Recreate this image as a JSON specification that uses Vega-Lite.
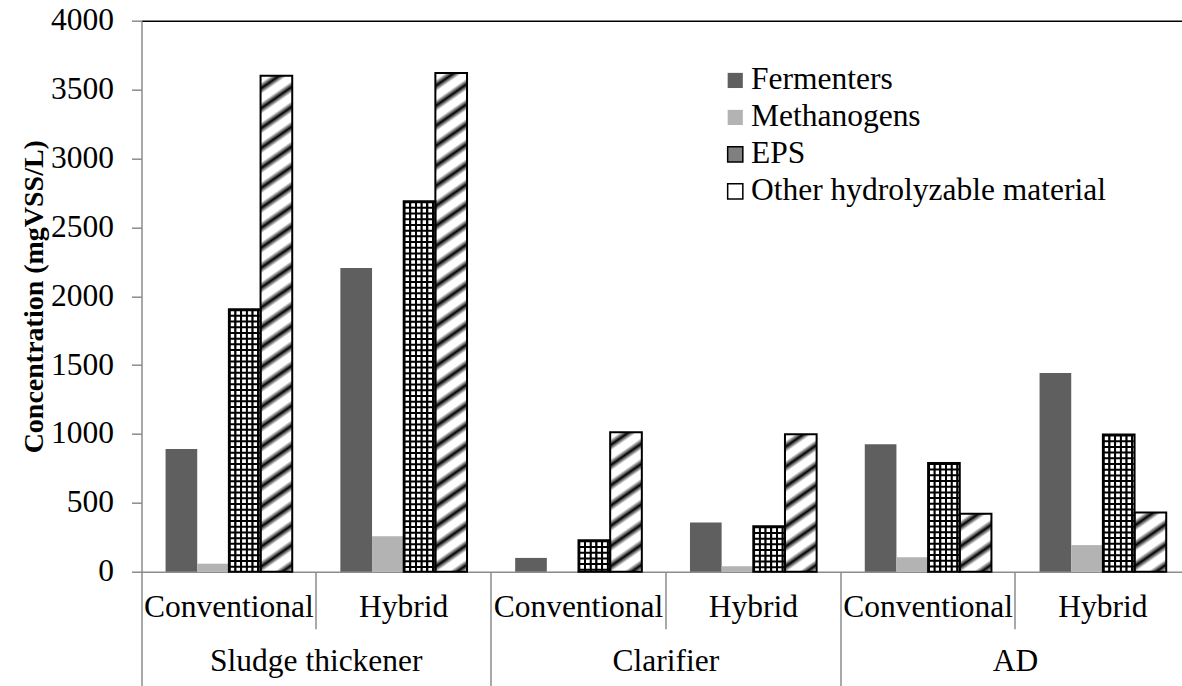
{
  "$schema": "https://vega.github.io/schema/vega-lite/v6.json",
  "width": 1048.8,
  "height": 551,
  "autosize": {"type": "none"},
  "padding": {"left": 141.5, "top": 20.7, "right": 0, "bottom": 114.3},
  "config": {"view": {"stroke": null}, "font": "Liberation Serif"},
  "data": {
    "values": [
      {"group": "Sludge thickener|Conventional", "series": "Fermenters", "value": 890},
      {"group": "Sludge thickener|Conventional", "series": "Methanogens", "value": 58},
      {"group": "Sludge thickener|Conventional", "series": "EPS", "value": 1906},
      {"group": "Sludge thickener|Conventional", "series": "Other hydrolyzable material", "value": 3600},
      {"group": "Sludge thickener|Hybrid", "series": "Fermenters", "value": 2205},
      {"group": "Sludge thickener|Hybrid", "series": "Methanogens", "value": 257},
      {"group": "Sludge thickener|Hybrid", "series": "EPS", "value": 2690},
      {"group": "Sludge thickener|Hybrid", "series": "Other hydrolyzable material", "value": 3620},
      {"group": "Clarifier|Conventional", "series": "Fermenters", "value": 100},
      {"group": "Clarifier|Conventional", "series": "Methanogens", "value": 3},
      {"group": "Clarifier|Conventional", "series": "EPS", "value": 228},
      {"group": "Clarifier|Conventional", "series": "Other hydrolyzable material", "value": 1013},
      {"group": "Clarifier|Hybrid", "series": "Fermenters", "value": 357},
      {"group": "Clarifier|Hybrid", "series": "Methanogens", "value": 40},
      {"group": "Clarifier|Hybrid", "series": "EPS", "value": 330},
      {"group": "Clarifier|Hybrid", "series": "Other hydrolyzable material", "value": 998},
      {"group": "AD|Conventional", "series": "Fermenters", "value": 925},
      {"group": "AD|Conventional", "series": "Methanogens", "value": 105},
      {"group": "AD|Conventional", "series": "EPS", "value": 790},
      {"group": "AD|Conventional", "series": "Other hydrolyzable material", "value": 420},
      {"group": "AD|Hybrid", "series": "Fermenters", "value": 1443},
      {"group": "AD|Hybrid", "series": "Methanogens", "value": 193},
      {"group": "AD|Hybrid", "series": "EPS", "value": 996},
      {"group": "AD|Hybrid", "series": "Other hydrolyzable material", "value": 430}
    ]
  },
  "layer": [
    {
      "mark": {"type": "bar"},
      "encoding": {
        "x": {
          "field": "group", "type": "nominal",
          "scale": {"domain": ["Sludge thickener|Conventional", "Sludge thickener|Hybrid", "Clarifier|Conventional", "Clarifier|Hybrid", "AD|Conventional", "AD|Hybrid"], "paddingInner": 0, "paddingOuter": 0},
          "axis": {
            "title": null,
            "labelExpr": "split(datum.label, '|')[1]",
            "labelFont": "Liberation Serif", "labelFontSize": 31.5, "labelColor": "black",
            "labelAngle": 0, "labelBaseline": "middle",
            "labelPadding": {"condition": {"test": "indexof(datum.value, 'Conventional') >= 0", "value": -78}, "value": -21},
            "bandPosition": 0,
            "tickSize": {"condition": {"test": "indexof(datum.value, 'Conventional') >= 0", "value": 114}, "value": 57},
            "tickColor": "#8c8c8c", "tickWidth": 1.5,
            "domainColor": "#8c8c8c", "domainWidth": 1.5,
            "grid": false
          }
        },
        "xOffset": {
          "field": "series", "type": "nominal",
          "scale": {"domain": ["Fermenters", "Methanogens", "EPS", "Other hydrolyzable material"], "paddingInner": 0, "paddingOuter": 0.76}
        },
        "y": {
          "field": "value", "type": "quantitative",
          "scale": {"domain": [0, 4000], "nice": false},
          "axis": {
            "title": "Concentration (mgVSS/L)",
            "titleFont": "Liberation Serif", "titleFontSize": 28, "titleFontWeight": "bold", "titleColor": "black", "titlePadding": 2,
            "values": [0, 500, 1000, 1500, 2000, 2500, 3000, 3500, 4000],
            "format": "d",
            "labelFont": "Liberation Serif", "labelFontSize": 31.5, "labelColor": "black", "labelPadding": 18,
            "tickSize": 10, "tickColor": "#8c8c8c", "tickWidth": 1.5,
            "domainColor": "#8c8c8c", "domainWidth": 1.5,
            "grid": true,
            "gridColor": {"condition": {"test": "datum.value === 4000", "value": "black"}, "value": "transparent"},
            "gridWidth": 1.5
          }
        },
        "color": {
          "field": "series", "type": "nominal",
          "scale": {"domain": ["Fermenters", "Methanogens", "EPS", "Other hydrolyzable material"], "range": ["#5f5f5f", "#b3b3b3", "#808080", "#ffffff"]},
          "legend": {
            "orient": "none", "legendX": 578, "legendY": 44,
            "title": null,
            "labelFont": "Liberation Serif", "labelFontSize": 31.5, "labelColor": "black", "labelLimit": 600,
            "symbolType": "square", "symbolSize": 230, "symbolStrokeWidth": 1.5,
            "symbolStrokeColor": {"expr": "datum.value === 'EPS' || datum.value === 'Other hydrolyzable material' ? 'black' : null"},
            "rowPadding": 4, "labelOffset": 0, "padding": 0
          }
        }
      }
    },
    {
      "transform": [{"filter": "datum.series === 'EPS'"}],
      "mark": {"type": "bar", "fill": {"gradient": "linear", "x1": 0, "y1": 0, "x2": 1, "y2": 0, "stops": [
        {"offset": 0, "color": "black"}, {"offset": 0.045, "color": "black"}, {"offset": 0.072, "color": "white"}, {"offset": 0.162, "color": "white"},
        {"offset": 0.18, "color": "black"}, {"offset": 0.225, "color": "black"}, {"offset": 0.252, "color": "white"}, {"offset": 0.342, "color": "white"},
        {"offset": 0.36, "color": "black"}, {"offset": 0.405, "color": "black"}, {"offset": 0.432, "color": "white"}, {"offset": 0.522, "color": "white"},
        {"offset": 0.54, "color": "black"}, {"offset": 0.585, "color": "black"}, {"offset": 0.612, "color": "white"}, {"offset": 0.702, "color": "white"},
        {"offset": 0.72, "color": "black"}, {"offset": 0.765, "color": "black"}, {"offset": 0.792, "color": "white"}, {"offset": 0.882, "color": "white"},
        {"offset": 0.9, "color": "black"}, {"offset": 0.945, "color": "black"}, {"offset": 0.972, "color": "white"}, {"offset": 1, "color": "white"}
      ]}},
      "encoding": {
        "x": {"field": "group", "type": "nominal"},
        "xOffset": {"field": "series", "type": "nominal"},
        "y": {"field": "value", "type": "quantitative"}
      }
    },
    {
      "transform": [{"filter": "datum.series === 'EPS'"}],
      "mark": {"type": "rule", "strokeWidth": 30, "strokeDash": [2, 3.7], "color": "black"},
      "encoding": {
        "x": {"field": "group", "type": "nominal"},
        "xOffset": {"field": "series", "type": "nominal"},
        "y": {"field": "value", "type": "quantitative"},
        "y2": {"datum": 0}
      }
    },
    {
      "transform": [{"filter": "datum.series === 'Other hydrolyzable material'"}],
      "mark": {"type": "bar"},
      "encoding": {
        "x": {"field": "group", "type": "nominal"},
        "xOffset": {"field": "series", "type": "nominal"},
        "y": {"field": "value", "type": "quantitative"},
        "fill": {
          "condition": [
            {"test": "datum.group === 'Sludge thickener|Conventional'", "value": {"gradient": "linear", "x1": 0, "y1": 0, "x2": 0.0466, "y2": 1.0426, "stops": [
              {"offset":0.01346,"color":"white"},{"offset":0.025,"color":"black"},{"offset":0.03654,"color":"white"},
              {"offset":0.05192,"color":"white"},{"offset":0.06346,"color":"black"},{"offset":0.075,"color":"white"},
              {"offset":0.09038,"color":"white"},{"offset":0.10192,"color":"black"},{"offset":0.11346,"color":"white"},
              {"offset":0.12885,"color":"white"},{"offset":0.14038,"color":"black"},{"offset":0.15192,"color":"white"},
              {"offset":0.16731,"color":"white"},{"offset":0.17885,"color":"black"},{"offset":0.19038,"color":"white"},
              {"offset":0.20577,"color":"white"},{"offset":0.21731,"color":"black"},{"offset":0.22885,"color":"white"},
              {"offset":0.24423,"color":"white"},{"offset":0.25577,"color":"black"},{"offset":0.26731,"color":"white"},
              {"offset":0.28269,"color":"white"},{"offset":0.29423,"color":"black"},{"offset":0.30577,"color":"white"},
              {"offset":0.32115,"color":"white"},{"offset":0.33269,"color":"black"},{"offset":0.34423,"color":"white"},
              {"offset":0.35962,"color":"white"},{"offset":0.37115,"color":"black"},{"offset":0.38269,"color":"white"},
              {"offset":0.39808,"color":"white"},{"offset":0.40962,"color":"black"},{"offset":0.42115,"color":"white"},
              {"offset":0.43654,"color":"white"},{"offset":0.44808,"color":"black"},{"offset":0.45962,"color":"white"},
              {"offset":0.475,"color":"white"},{"offset":0.48654,"color":"black"},{"offset":0.49808,"color":"white"},
              {"offset":0.51346,"color":"white"},{"offset":0.525,"color":"black"},{"offset":0.53654,"color":"white"},
              {"offset":0.55192,"color":"white"},{"offset":0.56346,"color":"black"},{"offset":0.575,"color":"white"},
              {"offset":0.59038,"color":"white"},{"offset":0.60192,"color":"black"},{"offset":0.61346,"color":"white"},
              {"offset":0.62885,"color":"white"},{"offset":0.64038,"color":"black"},{"offset":0.65192,"color":"white"},
              {"offset":0.66731,"color":"white"},{"offset":0.67885,"color":"black"},{"offset":0.69038,"color":"white"},
              {"offset":0.70577,"color":"white"},{"offset":0.71731,"color":"black"},{"offset":0.72885,"color":"white"},
              {"offset":0.74423,"color":"white"},{"offset":0.75577,"color":"black"},{"offset":0.76731,"color":"white"},
              {"offset":0.78269,"color":"white"},{"offset":0.79423,"color":"black"},{"offset":0.80577,"color":"white"},
              {"offset":0.82115,"color":"white"},{"offset":0.83269,"color":"black"},{"offset":0.84423,"color":"white"},
              {"offset":0.85962,"color":"white"},{"offset":0.87115,"color":"black"},{"offset":0.88269,"color":"white"},
              {"offset":0.89808,"color":"white"},{"offset":0.90962,"color":"black"},{"offset":0.92115,"color":"white"},
              {"offset":0.93654,"color":"white"},{"offset":0.94808,"color":"black"},{"offset":0.95962,"color":"white"},
              {"offset":0.975,"color":"white"},{"offset":0.98654,"color":"black"},{"offset":0.99808,"color":"white"}
            ]}},
            {"test": "datum.group === 'Sludge thickener|Hybrid'", "value": {"gradient": "linear", "x1": 0, "y1": 0, "x2": 0.04634, "y2": 1.04239, "stops": [
              {"offset":0.01346,"color":"white"},{"offset":0.025,"color":"black"},{"offset":0.03654,"color":"white"},
              {"offset":0.05192,"color":"white"},{"offset":0.06346,"color":"black"},{"offset":0.075,"color":"white"},
              {"offset":0.09038,"color":"white"},{"offset":0.10192,"color":"black"},{"offset":0.11346,"color":"white"},
              {"offset":0.12885,"color":"white"},{"offset":0.14038,"color":"black"},{"offset":0.15192,"color":"white"},
              {"offset":0.16731,"color":"white"},{"offset":0.17885,"color":"black"},{"offset":0.19038,"color":"white"},
              {"offset":0.20577,"color":"white"},{"offset":0.21731,"color":"black"},{"offset":0.22885,"color":"white"},
              {"offset":0.24423,"color":"white"},{"offset":0.25577,"color":"black"},{"offset":0.26731,"color":"white"},
              {"offset":0.28269,"color":"white"},{"offset":0.29423,"color":"black"},{"offset":0.30577,"color":"white"},
              {"offset":0.32115,"color":"white"},{"offset":0.33269,"color":"black"},{"offset":0.34423,"color":"white"},
              {"offset":0.35962,"color":"white"},{"offset":0.37115,"color":"black"},{"offset":0.38269,"color":"white"},
              {"offset":0.39808,"color":"white"},{"offset":0.40962,"color":"black"},{"offset":0.42115,"color":"white"},
              {"offset":0.43654,"color":"white"},{"offset":0.44808,"color":"black"},{"offset":0.45962,"color":"white"},
              {"offset":0.475,"color":"white"},{"offset":0.48654,"color":"black"},{"offset":0.49808,"color":"white"},
              {"offset":0.51346,"color":"white"},{"offset":0.525,"color":"black"},{"offset":0.53654,"color":"white"},
              {"offset":0.55192,"color":"white"},{"offset":0.56346,"color":"black"},{"offset":0.575,"color":"white"},
              {"offset":0.59038,"color":"white"},{"offset":0.60192,"color":"black"},{"offset":0.61346,"color":"white"},
              {"offset":0.62885,"color":"white"},{"offset":0.64038,"color":"black"},{"offset":0.65192,"color":"white"},
              {"offset":0.66731,"color":"white"},{"offset":0.67885,"color":"black"},{"offset":0.69038,"color":"white"},
              {"offset":0.70577,"color":"white"},{"offset":0.71731,"color":"black"},{"offset":0.72885,"color":"white"},
              {"offset":0.74423,"color":"white"},{"offset":0.75577,"color":"black"},{"offset":0.76731,"color":"white"},
              {"offset":0.78269,"color":"white"},{"offset":0.79423,"color":"black"},{"offset":0.80577,"color":"white"},
              {"offset":0.82115,"color":"white"},{"offset":0.83269,"color":"black"},{"offset":0.84423,"color":"white"},
              {"offset":0.85962,"color":"white"},{"offset":0.87115,"color":"black"},{"offset":0.88269,"color":"white"},
              {"offset":0.89808,"color":"white"},{"offset":0.90962,"color":"black"},{"offset":0.92115,"color":"white"},
              {"offset":0.93654,"color":"white"},{"offset":0.94808,"color":"black"},{"offset":0.95962,"color":"white"},
              {"offset":0.975,"color":"white"},{"offset":0.98654,"color":"black"},{"offset":0.99808,"color":"white"}
            ]}},
            {"test": "datum.group === 'Clarifier|Conventional'", "value": {"gradient": "linear", "x1": 0, "y1": 0, "x2": 0.17964, "y2": 1.13037, "stops": [
              {"offset":0.04375,"color":"white"},{"offset":0.08125,"color":"black"},{"offset":0.11875,"color":"white"},
              {"offset":0.16875,"color":"white"},{"offset":0.20625,"color":"black"},{"offset":0.24375,"color":"white"},
              {"offset":0.29375,"color":"white"},{"offset":0.33125,"color":"black"},{"offset":0.36875,"color":"white"},
              {"offset":0.41875,"color":"white"},{"offset":0.45625,"color":"black"},{"offset":0.49375,"color":"white"},
              {"offset":0.54375,"color":"white"},{"offset":0.58125,"color":"black"},{"offset":0.61875,"color":"white"},
              {"offset":0.66875,"color":"white"},{"offset":0.70625,"color":"black"},{"offset":0.74375,"color":"white"},
              {"offset":0.79375,"color":"white"},{"offset":0.83125,"color":"black"},{"offset":0.86875,"color":"white"},
              {"offset":0.91875,"color":"white"},{"offset":0.95625,"color":"black"},{"offset":0.99375,"color":"white"}
            ]}},
            {"test": "datum.group === 'Clarifier|Hybrid'", "value": {"gradient": "linear", "x1": 0, "y1": 0, "x2": 0.18249, "y2": 1.1318, "stops": [
              {"offset":0.04375,"color":"white"},{"offset":0.08125,"color":"black"},{"offset":0.11875,"color":"white"},
              {"offset":0.16875,"color":"white"},{"offset":0.20625,"color":"black"},{"offset":0.24375,"color":"white"},
              {"offset":0.29375,"color":"white"},{"offset":0.33125,"color":"black"},{"offset":0.36875,"color":"white"},
              {"offset":0.41875,"color":"white"},{"offset":0.45625,"color":"black"},{"offset":0.49375,"color":"white"},
              {"offset":0.54375,"color":"white"},{"offset":0.58125,"color":"black"},{"offset":0.61875,"color":"white"},
              {"offset":0.66875,"color":"white"},{"offset":0.70625,"color":"black"},{"offset":0.74375,"color":"white"},
              {"offset":0.79375,"color":"white"},{"offset":0.83125,"color":"black"},{"offset":0.86875,"color":"white"},
              {"offset":0.91875,"color":"white"},{"offset":0.95625,"color":"black"},{"offset":0.99375,"color":"white"}
            ]}},
            {"test": "datum.group === 'AD|Conventional'", "value": {"gradient": "linear", "x1": 0, "y1": 0, "x2": 0.46181, "y2": 1.20607, "stops": [
              {"offset":0.0875,"color":"white"},{"offset":0.1625,"color":"black"},{"offset":0.2375,"color":"white"},
              {"offset":0.3375,"color":"white"},{"offset":0.4125,"color":"black"},{"offset":0.4875,"color":"white"},
              {"offset":0.5875,"color":"white"},{"offset":0.6625,"color":"black"},{"offset":0.7375,"color":"white"},
              {"offset":0.8375,"color":"white"},{"offset":0.9125,"color":"black"},{"offset":0.9875,"color":"white"}
            ]}},
            {"test": "datum.group === 'AD|Hybrid'", "value": {"gradient": "linear", "x1": 0, "y1": 0, "x2": 0.4491, "y2": 1.20529, "stops": [
              {"offset":0.0875,"color":"white"},{"offset":0.1625,"color":"black"},{"offset":0.2375,"color":"white"},
              {"offset":0.3375,"color":"white"},{"offset":0.4125,"color":"black"},{"offset":0.4875,"color":"white"},
              {"offset":0.5875,"color":"white"},{"offset":0.6625,"color":"black"},{"offset":0.7375,"color":"white"},
              {"offset":0.8375,"color":"white"},{"offset":0.9125,"color":"black"},{"offset":0.9875,"color":"white"}
            ]}}
          ],
          "value": "white"
        }
      }
    },
    {
      "transform": [{"filter": "datum.series === 'EPS' || datum.series === 'Other hydrolyzable material'"}],
      "mark": {"type": "bar", "fillOpacity": 0, "stroke": "black", "strokeWidth": 2},
      "encoding": {
        "x": {"field": "group", "type": "nominal"},
        "xOffset": {"field": "series", "type": "nominal"},
        "y": {"field": "value", "type": "quantitative"}
      }
    },
    {
      "data": {"values": [
        {"group": "Sludge thickener|Conventional", "location": "Sludge thickener"},
        {"group": "Clarifier|Conventional", "location": "Clarifier"},
        {"group": "AD|Conventional", "location": "AD"}
      ]},
      "mark": {"type": "text", "font": "Liberation Serif", "fontSize": 31.5, "color": "black", "baseline": "middle", "dy": 90},
      "encoding": {
        "x": {"field": "group", "type": "nominal", "bandPosition": 1},
        "y": {"datum": 0},
        "text": {"field": "location"}
      }
    }
  ]
}
